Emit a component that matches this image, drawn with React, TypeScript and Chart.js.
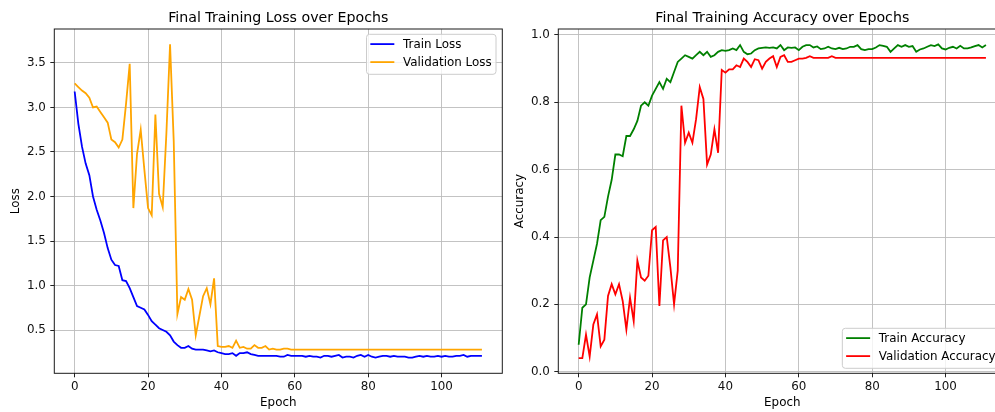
import React, { useEffect, useRef } from "react";
import { Chart, registerables } from "chart.js";

Chart.register(...registerables);

const trainLoss = [
  3.18, 2.82, 2.56, 2.37, 2.24, 2.0, 1.85, 1.73, 1.59, 1.42,
  1.29, 1.23, 1.22, 1.06, 1.05, 0.97, 0.87, 0.77, 0.75, 0.73,
  0.67, 0.6, 0.56, 0.52, 0.5, 0.48, 0.44, 0.37, 0.33, 0.3,
  0.3, 0.32, 0.29, 0.28, 0.28, 0.28, 0.27, 0.26, 0.27, 0.25,
  0.24, 0.23, 0.23, 0.24, 0.21, 0.24, 0.24, 0.25, 0.23, 0.22,
  0.21, 0.21, 0.21, 0.21, 0.21, 0.21, 0.2, 0.2, 0.22, 0.21,
  0.21, 0.21, 0.21, 0.2, 0.21, 0.2, 0.2, 0.19, 0.21, 0.21,
  0.2, 0.21, 0.22, 0.19, 0.2, 0.2, 0.19, 0.21, 0.22, 0.2,
  0.22, 0.2, 0.19, 0.2, 0.21, 0.21, 0.2, 0.21, 0.2, 0.2,
  0.2, 0.19, 0.19, 0.2, 0.21, 0.2, 0.21, 0.2, 0.2, 0.21,
  0.2, 0.21, 0.2, 0.2, 0.21, 0.21, 0.22, 0.2, 0.21, 0.21,
  0.21, 0.21,
];

const valLoss = [
  3.27, 3.23, 3.19, 3.16, 3.11, 3.0, 3.01, 2.95, 2.89, 2.83,
  2.64, 2.61, 2.55, 2.64, 3.04, 3.49, 1.87, 2.48, 2.75, 2.3,
  1.87, 1.79, 2.92, 2.03, 1.88, 2.71, 3.71, 2.62, 0.68, 0.87,
  0.84, 0.96, 0.84, 0.44, 0.66, 0.88, 0.97, 0.79, 1.08, 0.32,
  0.31, 0.31, 0.32, 0.3, 0.38, 0.3, 0.31, 0.29, 0.29, 0.33,
  0.3, 0.3, 0.32, 0.28, 0.29, 0.28, 0.28, 0.29, 0.29, 0.28,
  0.28, 0.28, 0.28, 0.28, 0.28, 0.28, 0.28, 0.28, 0.28, 0.28,
  0.28, 0.28, 0.28, 0.28, 0.28, 0.28, 0.28, 0.28, 0.28, 0.28,
  0.28, 0.28, 0.28, 0.28, 0.28, 0.28, 0.28, 0.28, 0.28, 0.28,
  0.28, 0.28, 0.28, 0.28, 0.28, 0.28, 0.28, 0.28, 0.28, 0.28,
  0.28, 0.28, 0.28, 0.28, 0.28, 0.28, 0.28, 0.28, 0.28, 0.28,
  0.28, 0.28,
];

const trainAcc = [
  0.08, 0.19, 0.2, 0.28, 0.33, 0.38, 0.45, 0.46, 0.52, 0.57,
  0.645, 0.645, 0.64, 0.7, 0.7, 0.72, 0.745, 0.79, 0.8, 0.79,
  0.82, 0.84, 0.86, 0.84, 0.87, 0.86, 0.89, 0.92, 0.93, 0.94,
  0.935, 0.93, 0.94, 0.95, 0.94, 0.95, 0.935, 0.94, 0.95, 0.955,
  0.953, 0.955, 0.96, 0.955, 0.97, 0.95, 0.943, 0.945, 0.955, 0.96,
  0.962, 0.963, 0.962, 0.963, 0.96, 0.97, 0.955, 0.963, 0.962, 0.963,
  0.955, 0.965, 0.97, 0.97, 0.963, 0.966, 0.958, 0.96, 0.965, 0.96,
  0.958, 0.962, 0.958, 0.96, 0.965, 0.965, 0.97, 0.958, 0.955, 0.958,
  0.958, 0.963, 0.97, 0.968, 0.965, 0.95, 0.96, 0.97, 0.965, 0.97,
  0.965, 0.967, 0.95, 0.957, 0.96, 0.965, 0.97, 0.967, 0.972, 0.96,
  0.957, 0.962, 0.965, 0.96, 0.968, 0.96, 0.96, 0.963, 0.967, 0.97,
  0.963, 0.97,
];

const valAcc = [
  0.04, 0.04, 0.11, 0.045, 0.14, 0.17, 0.075, 0.095, 0.225, 0.26,
  0.23, 0.26, 0.21, 0.125, 0.22, 0.15, 0.33, 0.28, 0.27, 0.285,
  0.42, 0.43, 0.195, 0.39, 0.4, 0.31, 0.2, 0.3, 0.79, 0.68,
  0.71, 0.68, 0.75, 0.845, 0.81, 0.615, 0.645, 0.72, 0.65, 0.896,
  0.888, 0.898, 0.898, 0.91, 0.905, 0.93, 0.92, 0.905, 0.928, 0.925,
  0.9, 0.92, 0.93, 0.937, 0.905, 0.935, 0.94, 0.92, 0.92, 0.925,
  0.93, 0.93, 0.932, 0.937, 0.932, 0.932, 0.932, 0.932, 0.932, 0.937,
  0.932, 0.932, 0.932, 0.932, 0.932, 0.932, 0.932, 0.932, 0.932, 0.932,
  0.932, 0.932, 0.932, 0.932, 0.932, 0.932, 0.932, 0.932, 0.932, 0.932,
  0.932, 0.932, 0.932, 0.932, 0.932, 0.932, 0.932, 0.932, 0.932, 0.932,
  0.932, 0.932, 0.932, 0.932, 0.932, 0.932, 0.932, 0.932, 0.932, 0.932,
  0.932, 0.932,
];

const epochs = trainLoss.map((_, i) => i);
const epochTicks = [0, 20, 40, 60, 80, 100];
const lossTicks = [0.5, 1.0, 1.5, 2.0, 2.5, 3.0, 3.5];
const accTicks = [0.0, 0.2, 0.4, 0.6, 0.8, 1.0];

const FONT = "'DejaVu Sans', sans-serif";
const FS = 11.9;
const TICK_FONT = { family: FONT, size: FS };
const GRID = "#bcbcbc";

const decor = {
  id: "mplDecor",
  afterDraw(chart: any, _args: any, opts: any) {
    const { ctx, chartArea: a } = chart;
    ctx.save();
    // frame (spines)
    ctx.strokeStyle = "#1a1a1a";
    ctx.lineWidth = 1;
    ctx.strokeRect(a.left, a.top, a.right - a.left, a.bottom - a.top);
    // title
    ctx.fillStyle = "#000";
    ctx.font = `14.2px ${FONT}`;
    ctx.textAlign = "center";
    ctx.textBaseline = "alphabetic";
    ctx.fillText(opts.title, (a.left + a.right) / 2, 21.5);
    // legend
    const items = opts.items as { label: string; color: string }[];
    ctx.font = `${FS}px ${FONT}`;
    const tw = Math.max(...items.map((it) => ctx.measureText(it.label).width));
    const pad = 3.8;
    const hl = 24;
    const htp = 8.7;
    const w = pad + hl + htp + tw + 4.4;
    const h = 40;
    const x = a.right - 6.3 - w;
    const y = opts.loc === "upper right" ? a.top + 5.3 : a.bottom - 5 - h;
    ctx.beginPath();
    if (ctx.roundRect) ctx.roundRect(x, y, w, h, 3);
    else ctx.rect(x, y, w, h);
    ctx.fillStyle = "rgba(255,255,255,0.8)";
    ctx.fill();
    ctx.strokeStyle = "#cccccc";
    ctx.lineWidth = 1;
    ctx.stroke();
    items.forEach((it, i) => {
      const cy = y + 9.8 + i * 18;
      ctx.strokeStyle = it.color;
      ctx.lineWidth = 1.8;
      ctx.beginPath();
      ctx.moveTo(x + pad, cy);
      ctx.lineTo(x + pad + hl, cy);
      ctx.stroke();
      ctx.fillStyle = "#000";
      ctx.textAlign = "left";
      ctx.textBaseline = "middle";
      ctx.fillText(it.label, x + pad + hl + htp, cy + 0.5);
    });
    ctx.restore();
  },
};

function buildConfig(p: {
  title: string;
  yTitle: string;
  yMin: number;
  yMax: number;
  yTicks: number[];
  yWidth: number;
  yTitlePad: number;
  padRight: number;
  series: { label: string; data: number[]; color: string }[];
  loc: string;
}): any {
  return {
    type: "line",
    data: {
      datasets: p.series.map((s) => ({
        label: s.label,
        data: s.data.map((v, i) => ({ x: epochs[i], y: v })),
        borderColor: s.color,
        backgroundColor: s.color,
        borderWidth: 1.8,
        pointRadius: 0,
        pointHoverRadius: 0,
        fill: false,
        tension: 0,
      })),
    },
    options: {
      responsive: false,
      animation: false,
      events: [],
      layout: { padding: { left: 0, right: p.padRight, top: 29, bottom: 0 } },
      plugins: {
        legend: { display: false },
        tooltip: { enabled: false },
        title: { display: false },
        mplDecor: {
          title: p.title,
          loc: p.loc,
          items: p.series.map((s) => ({ label: s.label, color: s.color })),
        },
      },
      scales: {
        x: {
          type: "linear",
          min: -5.55,
          max: 116.55,
          afterBuildTicks: (s: any) => {
            s.ticks = epochTicks.map((v) => ({ value: v }));
          },
          afterFit: (s: any) => {
            s.height = 38.7;
          },
          ticks: {
            font: TICK_FONT,
            color: "#111",
            padding: 2.2,
            maxRotation: 0,
            autoSkip: false,
            callback: (v: any) => String(v),
          },
          grid: {
            color: GRID,
            lineWidth: 0.9,
            tickLength: 4,
            tickColor: "#222",
            tickWidth: 1,
          },
          border: { display: false },
          title: {
            display: true,
            text: "Epoch",
            font: { family: FONT, size: FS },
            color: "#000",
            padding: { top: 0, bottom: 1.5 },
          },
        },
        y: {
          type: "linear",
          min: p.yMin,
          max: p.yMax,
          afterBuildTicks: (s: any) => {
            s.ticks = p.yTicks.map((v) => ({ value: v }));
          },
          afterFit: (s: any) => {
            s.width = p.yWidth;
          },
          ticks: {
            font: TICK_FONT,
            color: "#111",
            padding: 4.5,
            autoSkip: false,
            callback: (v: any) => Number(v).toFixed(1),
          },
          grid: {
            color: GRID,
            lineWidth: 0.9,
            tickLength: 4,
            tickColor: "#222",
            tickWidth: 1,
          },
          border: { display: false },
          title: {
            display: true,
            text: p.yTitle,
            font: { family: FONT, size: FS },
            color: "#000",
            padding: { top: p.yTitlePad, bottom: 0 },
          },
        },
      },
    },
    plugins: [decor],
  };
}

export default function App() {
  const leftRef = useRef<HTMLCanvasElement | null>(null);
  const rightRef = useRef<HTMLCanvasElement | null>(null);

  useEffect(() => {
    document.body.style.margin = "0";
    const c1 = new Chart(
      leftRef.current as HTMLCanvasElement,
      buildConfig({
        title: "Final Training Loss over Epochs",
        yTitle: "Loss",
        yMin: 0.0135,
        yMax: 3.882,
        yTicks: lossTicks,
        yWidth: 54.3,
        yTitlePad: 8.8,
        padRight: 505 - 502.3,
        loc: "upper right",
        series: [
          { label: "Train Loss", data: trainLoss, color: "#0000ff" },
          { label: "Validation Loss", data: valLoss, color: "#ffa500" },
        ],
      })
    );
    const c2 = new Chart(
      rightRef.current as HTMLCanvasElement,
      buildConfig({
        title: "Final Training Accuracy over Epochs",
        yTitle: "Accuracy",
        yMin: -0.0048,
        yMax: 1.0178,
        yTicks: accTicks,
        yWidth: 53.3,
        yTitlePad: 7.6,
        padRight: 512 - 501.3,
        loc: "lower right",
        series: [
          { label: "Train Accuracy", data: trainAcc, color: "#008000" },
          { label: "Validation Accuracy", data: valAcc, color: "#ff0000" },
        ],
      })
    );
    return () => {
      c1.destroy();
      c2.destroy();
    };
  }, []);

  return (
    <div
      style={{
        position: "relative",
        width: 995,
        height: 412,
        overflow: "hidden",
        background: "#fff",
      }}
    >
      <canvas
        ref={leftRef}
        width={505}
        height={412}
        style={{ position: "absolute", left: 0, top: 0, width: 505, height: 412, display: "block" }}
      />
      <canvas
        ref={rightRef}
        width={512}
        height={412}
        style={{ position: "absolute", left: 505, top: 0, width: 512, height: 412, display: "block" }}
      />
    </div>
  );
}
